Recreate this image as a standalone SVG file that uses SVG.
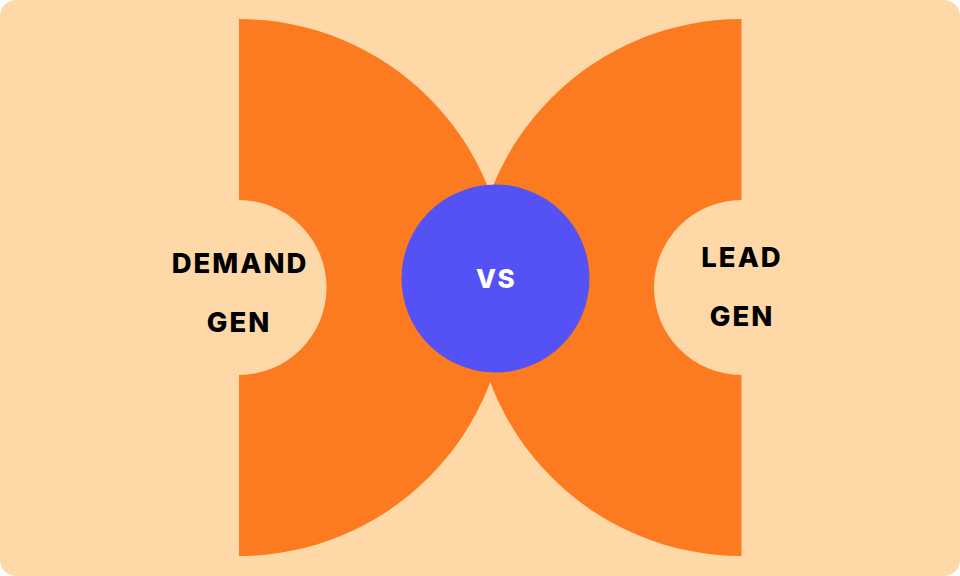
<svg xmlns="http://www.w3.org/2000/svg" width="960" height="576" viewBox="0 0 960 576">
<style>
.bg{fill:#FED8A6}
.orange{fill:#FD7B20}
.cut{fill:#FED8A6}
.blue{fill:#5452F4}
.lbl{font-family:Inter,"Noto Sans","Liberation Sans",sans-serif;font-weight:800;font-size:27.5px;letter-spacing:2px;fill:#000000;text-anchor:middle}
.vs{font-family:Inter,"Noto Sans","Liberation Sans",sans-serif;font-weight:800;font-size:26px;letter-spacing:1.5px;fill:#FFFFFF;text-anchor:middle}
</style>
<rect x="0" y="0" width="960" height="576" fill="#FFFFFF"/>
<rect class="bg" x="0" y="0" width="960" height="576" rx="16" ry="16"/>
<g id="demand-gen">
<path class="orange" d="M239,19 A268.5,268.5 0 0 1 239,556 Z"/>
<circle class="cut" cx="239" cy="287.5" r="87.5"/>
<text class="lbl" x="240" y="273">DEMAND</text>
<text class="lbl" x="239" y="332">GEN</text>
</g>
<g id="lead-gen">
<path class="orange" d="M741.5,19 A268.5,268.5 0 0 0 741.5,556 Z"/>
<circle class="cut" cx="741.5" cy="287.5" r="87.5"/>
<text class="lbl" x="742" y="267">LEAD</text>
<text class="lbl" x="742" y="326">GEN</text>
</g>
<g id="vs">
<circle class="blue" cx="495.5" cy="278.5" r="94"/>
<text class="vs" x="496" y="288">VS</text>
</g>
<g id="connectors"/>
</svg>
